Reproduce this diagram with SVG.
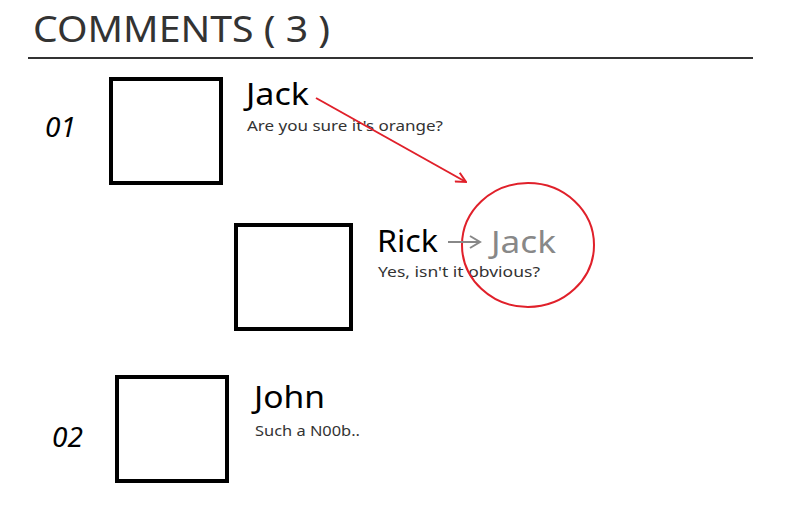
<svg xmlns="http://www.w3.org/2000/svg" width="800" height="522" viewBox="0 0 800 522">
<style>
text{font-family:"Noto Sans","Open Sans",sans-serif}
.box{fill:#fff;stroke:#000;stroke-width:4}
.name{font-size:31px;fill:#000}
.msg{font-size:15px;fill:#333}
.num{font-size:28px;font-style:italic;fill:#000}
</style>
<defs>
<marker id="ar" markerWidth="12" markerHeight="12" refX="11" refY="6" orient="auto" markerUnits="userSpaceOnUse"><path d="M1,1 L11,6 L1,11" fill="none" stroke="#e0202a" stroke-width="2"/></marker>
<marker id="ag" markerWidth="14" markerHeight="14" refX="12" refY="7" orient="auto" markerUnits="userSpaceOnUse"><path d="M2,1 L12,7 L2,13" fill="none" stroke="#888" stroke-width="2"/></marker>
</defs>
<rect width="800" height="522" fill="#fff"/>
<text x="33" y="42" font-size="37" fill="#333" textLength="297" lengthAdjust="spacingAndGlyphs">COMMENTS ( 3 )</text>
<line x1="28" y1="58" x2="753" y2="58" stroke="#333" stroke-width="2"/>
<g id="c1"><rect class="box" x="111" y="79" width="110" height="104"/><text class="num" x="45" y="137">01</text><text class="name" x="246" y="105" textLength="63" lengthAdjust="spacingAndGlyphs">Jack</text><text class="msg" x="247" y="131" textLength="196" lengthAdjust="spacingAndGlyphs">Are you sure it's orange?</text></g>
<g id="c2"><rect class="box" x="236" y="225" width="115" height="104"/><text class="name" x="377" y="252" textLength="61" lengthAdjust="spacingAndGlyphs">Rick</text><text class="msg" x="378" y="277" textLength="162" lengthAdjust="spacingAndGlyphs">Yes, isn't it obvious?</text><text x="491" y="253" font-size="31" fill="#888" textLength="65" lengthAdjust="spacingAndGlyphs">Jack</text></g>
<g id="c3"><rect class="box" x="117" y="377" width="110" height="104"/><text class="num" x="52" y="447">02</text><text class="name" x="254" y="408" textLength="71" lengthAdjust="spacingAndGlyphs">John</text><text class="msg" x="255" y="436" textLength="105" lengthAdjust="spacingAndGlyphs">Such a N00b..</text></g>
<g id="connectors">
<ellipse cx="528" cy="245" rx="66" ry="62" fill="none" stroke="#e0202a" stroke-width="2"/>
<line x1="316" y1="98" x2="466" y2="182" stroke="#e0202a" stroke-width="2" marker-end="url(#ar)"/>
<line x1="448" y1="242" x2="480" y2="242" stroke="#888" stroke-width="2" marker-end="url(#ag)"/>
</g>
</svg>
